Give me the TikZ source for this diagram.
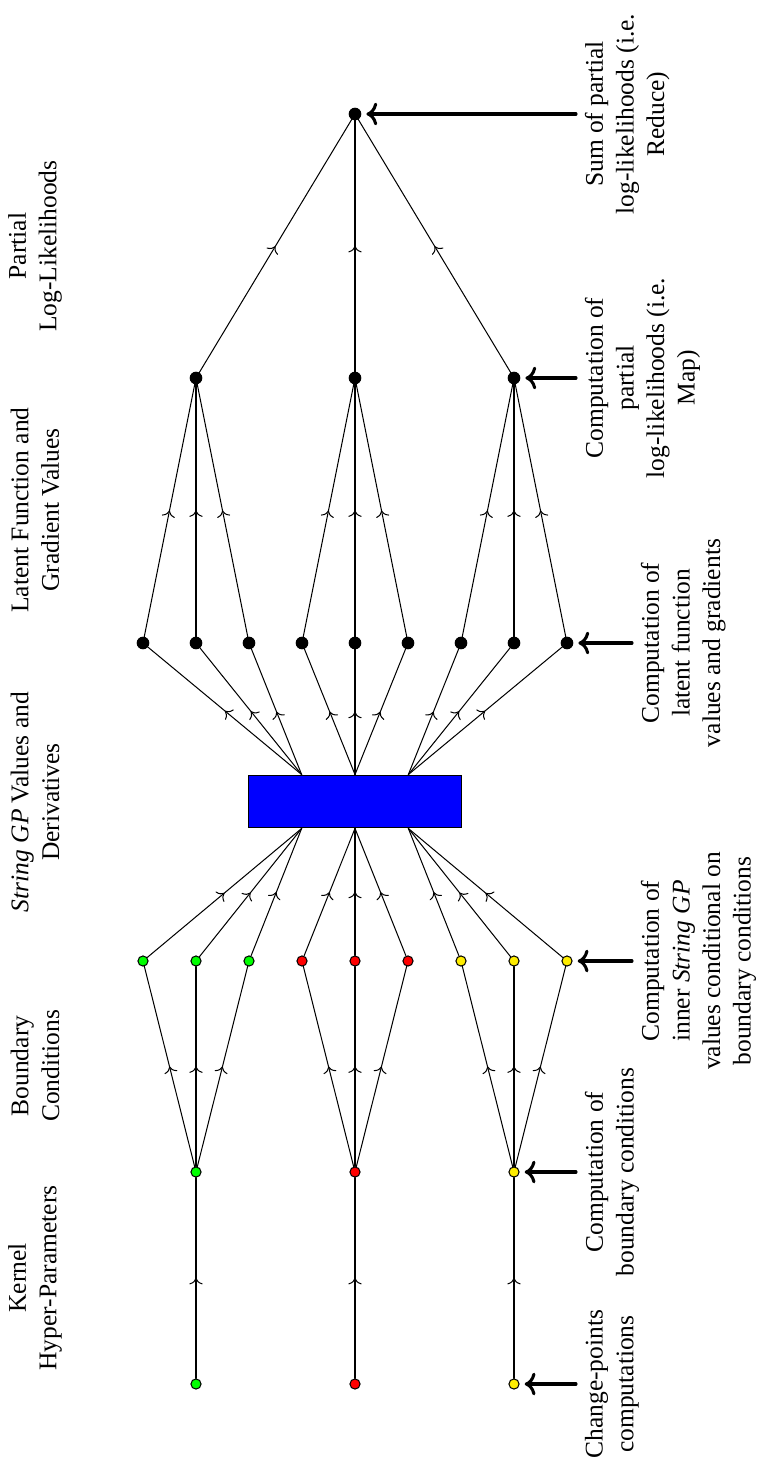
\documentclass[tikz,border=0pt]{standalone}
\usepackage{fontspec}
\setmainfont{Liberation Serif}
\usepackage{tikz}
\usetikzlibrary{arrows.meta, calc, decorations.markings}
\definecolor{sgpGreen}{rgb}{0, 1, 0}
\definecolor{sgpRed}{rgb}{1, 0, 0}
\definecolor{sgpYellow}{rgb}{1, 0.93, 0}
\definecolor{sgpBlue}{rgb}{0, 0, 1}
\tikzset{
  dot/.style={circle, draw=black, inner sep=0pt, minimum size=1.4mm},
  dotG/.style={dot, fill=sgpGreen},
  dotR/.style={dot, fill=sgpRed},
  dotY/.style={dot, fill=sgpYellow},
  dotK/.style={dot, fill=black, minimum size=1.6mm},
  sgpbox/.style={rectangle, draw=black, fill=sgpBlue, inner sep=0pt, minimum width=2.93cm, minimum height=0.73cm},
  flow/.style={decoration={markings, mark=at position 0.5 with {\arrow{>}}}, postaction={decorate}},
  note/.style={very thick, ->, shorten >=2pt},
  caption/.style={rotate=90, align=center},
}
\def\px{0.0138cm}

\begin{document}
\begin{tikzpicture}[x=\px, y=-\px, line cap = round]
  \useasboundingbox (0, 0) rectangle (762, 1463);

  \node[dotG] (cpG) at (196, 1384) {};
  \node[dotR] (cpR) at (355, 1384) {};
  \node[dotY] (cpY) at (514, 1384) {};

  \node[dotG] (bcG) at (196, 1172) {};
  \node[dotR] (bcR) at (355, 1172) {};
  \node[dotY] (bcY) at (514, 1172) {};

  \node[dotG] (in1) at (143, 961) {};
  \node[dotG] (in2) at (196, 961) {};
  \node[dotG] (in3) at (249, 961) {};
  \node[dotR] (in4) at (302, 961) {};
  \node[dotR] (in5) at (355, 961) {};
  \node[dotR] (in6) at (408, 961) {};
  \node[dotY] (in7) at (461, 961) {};
  \node[dotY] (in8) at (514, 961) {};
  \node[dotY] (in9) at (567, 961) {};

  \node[sgpbox] (sgp) at (355, 801.5) {};
  \coordinate (sgpSL) at ($(sgp.south west)!0.25!(sgp.south east)$);
  \coordinate (sgpSR) at ($(sgp.south west)!0.75!(sgp.south east)$);
  \coordinate (sgpNL) at ($(sgp.north west)!0.25!(sgp.north east)$);
  \coordinate (sgpNR) at ($(sgp.north west)!0.75!(sgp.north east)$);

  \node[dotK] (lat1) at (143, 643) {};
  \node[dotK] (lat2) at (196, 643) {};
  \node[dotK] (lat3) at (249, 643) {};
  \node[dotK] (lat4) at (302, 643) {};
  \node[dotK] (lat5) at (355, 643) {};
  \node[dotK] (lat6) at (408, 643) {};
  \node[dotK] (lat7) at (461, 643) {};
  \node[dotK] (lat8) at (514, 643) {};
  \node[dotK] (lat9) at (567, 643) {};

  \node[dotK] (pll1) at (196, 378) {};
  \node[dotK] (pll2) at (355, 378) {};
  \node[dotK] (pll3) at (514, 378) {};

  \node[dotK] (total) at (355, 114) {};

  \draw[flow] (cpG) -- (bcG);
  \draw[flow] (cpR) -- (bcR);
  \draw[flow] (cpY) -- (bcY);

  \draw[flow] (bcG) -- (in1);
  \draw[flow] (bcG) -- (in2);
  \draw[flow] (bcG) -- (in3);
  \draw[flow] (bcR) -- (in4);
  \draw[flow] (bcR) -- (in5);
  \draw[flow] (bcR) -- (in6);
  \draw[flow] (bcY) -- (in7);
  \draw[flow] (bcY) -- (in8);
  \draw[flow] (bcY) -- (in9);

  \draw[flow] (in1) -- (sgpSL);
  \draw[flow] (in2) -- (sgpSL);
  \draw[flow] (in3) -- (sgpSL);
  \draw[flow] (in4) -- (sgp.south);
  \draw[flow] (in5) -- (sgp.south);
  \draw[flow] (in6) -- (sgp.south);
  \draw[flow] (in7) -- (sgpSR);
  \draw[flow] (in8) -- (sgpSR);
  \draw[flow] (in9) -- (sgpSR);

  \draw[flow] (sgpNL) -- (lat1);
  \draw[flow] (sgpNL) -- (lat2);
  \draw[flow] (sgpNL) -- (lat3);
  \draw[flow] (sgp.north) -- (lat4);
  \draw[flow] (sgp.north) -- (lat5);
  \draw[flow] (sgp.north) -- (lat6);
  \draw[flow] (sgpNR) -- (lat7);
  \draw[flow] (sgpNR) -- (lat8);
  \draw[flow] (sgpNR) -- (lat9);

  \draw[flow] (lat1) -- (pll1);
  \draw[flow] (lat2) -- (pll1);
  \draw[flow] (lat3) -- (pll1);
  \draw[flow] (lat4) -- (pll2);
  \draw[flow] (lat5) -- (pll2);
  \draw[flow] (lat6) -- (pll2);
  \draw[flow] (lat7) -- (pll3);
  \draw[flow] (lat8) -- (pll3);
  \draw[flow] (lat9) -- (pll3);

  \draw[flow] (pll1) -- (total);
  \draw[flow] (pll2) -- (total);
  \draw[flow] (pll3) -- (total);

  \node[caption] (hdKernel) at (35, 1278) {Kernel\\Hyper-Parameters};
  \node[caption] (hdBound) at (35, 1066) {Boundary\\Conditions};
  \node[caption] (hdSgp) at (35, 802) {\textit{String GP} Values and\\Derivatives};
  \node[caption] (hdLatent) at (35, 510) {Latent Function and\\Gradient Values};
  \node[caption] (hdPartial) at (35, 246) {Partial\\Log-Likelihoods};

  \coordinate (tailCp) at (576, 1384);
  \coordinate (tailBc) at (576, 1172);
  \coordinate (tailIn) at (632, 961);
  \coordinate (tailLat) at (632, 643);
  \coordinate (tailPll) at (576, 378);
  \coordinate (tailTotal) at (576, 114);

  \draw[note] (tailCp) -- (cpY);
  \draw[note] (tailBc) -- (bcY);
  \draw[note] (tailIn) -- (in9);
  \draw[note] (tailLat) -- (lat9);
  \draw[note] (tailPll) -- (pll3);
  \draw[note] (tailTotal) -- (total);

  \node[caption, anchor=north] (noteCp) at (tailCp) {Change-points\\computations};
  \node[caption, anchor=north] (noteBc) at (tailBc) {Computation of\\boundary conditions};
  \node[caption, anchor=north] (noteIn) at (tailIn) {Computation of\\inner \textit{String GP}\\values conditional on\\boundary conditions};
  \node[caption, anchor=north] (noteLat) at (tailLat) {Computation of\\latent function\\values and gradients};
  \node[caption, anchor=north] (notePll) at (tailPll) {Computation of\\partial\\log-likelihoods (i.e.\\Map)};
  \node[caption, anchor=north] (noteTotal) at (tailTotal) {Sum of partial\\log-likelihoods (i.e.\\Reduce)};
\end{tikzpicture}
\end{document}
